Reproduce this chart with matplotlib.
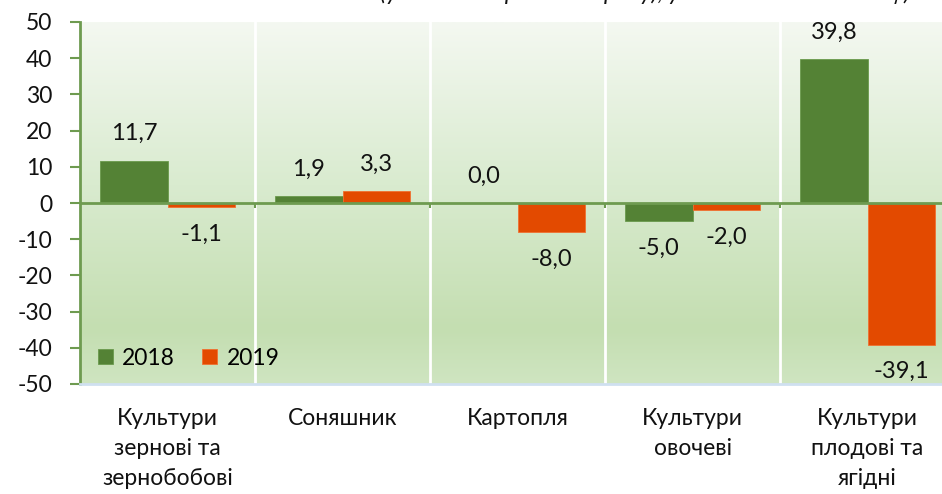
import numpy as np
import matplotlib
matplotlib.use("Agg")
import matplotlib.pyplot as plt
from matplotlib.colors import LinearSegmentedColormap

categories = ["Культури\nзернові та\nзернобобові", "Соняшник", "Картопля",
              "Культури\nовочеві", "Культури\nплодові та\nягідні"]
series_names = ["2018", "2019"]
values_2018 = [11.7, 1.9, 0.0, -5.0, 39.8]
values_2019 = [-1.1, 3.3, -8.0, -2.0, -39.1]
yticks = [-50, -40, -30, -20, -10, 0, 10, 20, 30, 40, 50]
title = "(у % до попереднього року), у % до загальної площі)"

GREEN = "#548235"
ORANGE = "#E34A00"
AXIS_GREEN = "#6E9B50"

plt.rcParams['font.family'] = ['Lato', 'DejaVu Sans']

W, H = 942, 494
fig = plt.figure(figsize=(W / 100, H / 100), dpi=100)
ax = fig.add_axes([80 / W, (H - 384) / H, 875 / W, 362 / H])

x = np.arange(len(categories))
bw = 0.385

# gradient background
grad_cmap = LinearSegmentedColormap.from_list(
    "bg", [(0.0, "#cfe5c1"), (0.15, "#c4deb1"), (0.55, "#d9ebcf"), (1.0, "#f4f8f1")])
grad = np.linspace(0, 1, 256).reshape(-1, 1)
ax.imshow(grad, extent=[-0.5, len(categories) - 0.5, -50, 50], origin="lower",
          cmap=grad_cmap, aspect="auto", zorder=0)

# vertical white separators
for b in np.arange(0.5, len(categories) - 0.5, 1.0):
    ax.axvline(b, color="white", lw=2, zorder=1)

b1 = ax.bar(x - bw / 2, values_2018, bw, color=GREEN, zorder=3, label=series_names[0],
            edgecolor="#6a9a4c", linewidth=0.6)
b2 = ax.bar(x + bw / 2, values_2019, bw, color=ORANGE, zorder=3, label=series_names[1],
            edgecolor="#f07030", linewidth=0.6)

ax.axhline(0, color=AXIS_GREEN, lw=2, zorder=4)
ax.vlines(np.arange(0.5, len(categories) - 0.5, 1.0), -1.4, 0, color=AXIS_GREEN, lw=1.5, zorder=4)

for bars, vals in ((b1, values_2018), (b2, values_2019)):
    for rect, v in zip(bars, vals):
        cx = rect.get_x() + rect.get_width() / 2
        off = 27 if v >= 0 else -27
        ax.annotate(f"{v:.1f}".replace(".", ","), (cx, v), xytext=(0, off),
                    textcoords="offset pixels", ha="center", va="center",
                    fontsize=17, color="#111111", zorder=5)

ax.set_xlim(-0.5, len(categories) - 0.5)
ax.set_ylim(-50, 50)
ax.set_yticks(yticks)
ax.set_yticklabels([str(t) for t in yticks], fontsize=16.5, color="#111111")
ax.tick_params(axis="y", direction="out", length=7, width=1.5, color=AXIS_GREEN, pad=13)
ax.set_xticks(x)
ax.set_xticklabels(categories, fontsize=16.5, color="#111111", linespacing=1.55, va="top")
ax.tick_params(axis="x", length=0, pad=17)

for s in ("top", "right"):
    ax.spines[s].set_visible(False)
ax.spines["left"].set_color(AXIS_GREEN)
ax.spines["left"].set_linewidth(2)
ax.spines["bottom"].set_color("#cfe0f0")
ax.spines["bottom"].set_linewidth(2)

leg = ax.legend(loc="lower left", bbox_to_anchor=(-0.003, -0.015), frameon=False, ncol=2,
                fontsize=16.5, handlelength=0.65, handleheight=0.65, handletextpad=0.4,
                columnspacing=1.2)

fig.text(380 / W, (H - 0.5) / H, title, ha="left", va="baseline", fontsize=17,
         style="italic", color="#111111")

fig.savefig("out.png", dpi=100)
